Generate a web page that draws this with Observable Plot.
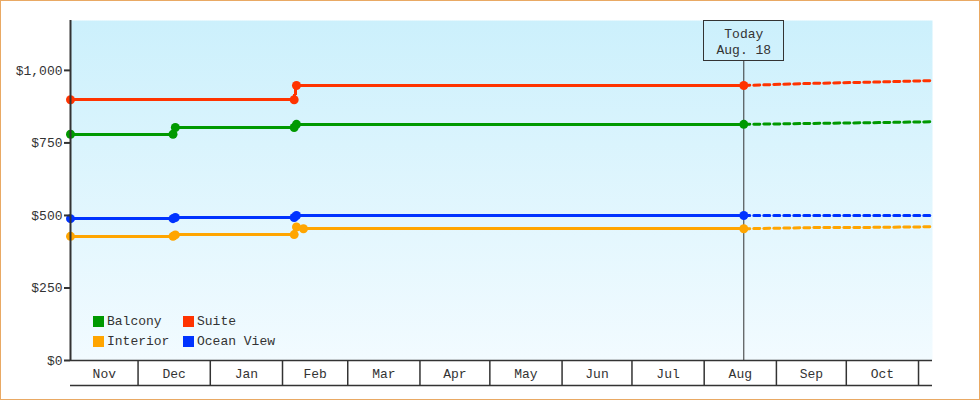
<!DOCTYPE html>
<html>
<head>
<meta charset="utf-8">
<script src="https://cdn.jsdelivr.net/npm/d3@7"></script>
<script src="https://cdn.jsdelivr.net/npm/@observablehq/plot@0.6"></script>
<style>
  html, body { margin: 0; padding: 0; background: #fff; }
  #wrap { position: relative; width: 978px; height: 398px; border: 1px solid #e9a964; overflow: hidden; }
  #wrap svg { display: block; }
  .legend { position: absolute; left: 92px; top: 310px; display: grid; grid-template-columns: 90px auto; grid-auto-rows: 20px; align-items: center; font: 13px "Liberation Mono", monospace; color: #333; }
  .legend span.item { display: flex; align-items: center; white-space: nowrap; }
  .legend i { display: inline-block; width: 11px; height: 11px; margin-right: 3px; }
</style>
</head>
<body>
<div id="wrap"></div>
<script>
// ---- data ----
const seriesNames = ["Balcony", "Suite", "Interior", "Ocean View"];
const seriesColors = ["#009900", "#ff3300", "#ffa500", "#0033ff"];

const historyDates = ["2022-11-02", "2022-12-16", "2022-12-17", "2023-02-06", "2023-02-07", "2023-02-10", "2023-08-18"];
const balconyHistory  = [780, 780, 803, 803, 814, null, 814];
const suiteHistory    = [899, null, null, 899, 948, null, 948];
const interiorHistory = [428, 428, 433, 434, 460, 454, 454];
const oceanHistory    = [489, 489, 493, 493, 500, null, 500];

const forecastDates = ["2023-08-18", "2023-09-15", "2023-10-15", "2023-11-07"];
const balconyForecast  = [814, 817, 820, 823];
const suiteForecast    = [948, 955, 960, 965];
const interiorForecast = [454, 458, 459, 461];
const oceanForecast    = [500, 500, 500, 500];

const monthLabels = ["Nov", "Dec", "Jan", "Feb", "Mar", "Apr", "May", "Jun", "Jul", "Aug", "Sep", "Oct", "Nov"];
const monthStarts = ["2022-11-01", "2022-12-01", "2023-01-01", "2023-02-01", "2023-03-01", "2023-04-01", "2023-05-01", "2023-06-01", "2023-07-01", "2023-08-01", "2023-09-01", "2023-10-01", "2023-11-01"];
const xDomain = ["2022-11-02", "2023-11-07"];
const yTicks = [0, 250, 500, 750, 1000];
const yMax = 1172;
const todayDate = "2023-08-18";
const todayLabel = ["Today", "Aug. 18"];

// ---- build tables ----
const parse = s => new Date(s + "T00:00:00Z");
const histSets = [balconyHistory, suiteHistory, interiorHistory, oceanHistory];
const fcSets = [balconyForecast, suiteForecast, interiorForecast, oceanForecast];
const hist = [], fc = [];
seriesNames.forEach((s, i) => {
  historyDates.forEach((d, j) => { const v = histSets[i][j]; if (v != null) hist.push({series: s, date: parse(d), price: v}); });
  forecastDates.forEach((d, j) => { fc.push({series: s, date: parse(d), price: fcSets[i][j]}); });
});
const xd = xDomain.map(parse);
const starts = monthStarts.map(parse);
const cells = [];
for (let i = 0; i < starts.length; i++) {
  const a = new Date(Math.max(starts[i], xd[0]));
  const b = i + 1 < starts.length ? starts[i + 1] : xd[1];
  const bb = new Date(Math.min(b, xd[1]));
  if (bb - a > 10 * 864e5) cells.push({mid: new Date((+a + +bb) / 2), label: monthLabels[i]});
}
const ticksIn = starts.filter(d => d > xd[0] && d < xd[1]);
const today = parse(todayDate);

const ink = "#333";
const svg = Plot.plot({
  width: 978,
  height: 398,
  marginTop: 19,
  marginBottom: 39,
  marginLeft: 69,
  marginRight: 47,
  style: {fontFamily: "'Liberation Mono', monospace", fontSize: "13px", color: ink, background: "transparent", overflow: "visible"},
  x: {type: "utc", domain: xd, axis: null},
  y: {domain: [0, yMax], axis: null},
  color: {domain: seriesNames, range: seriesColors},
  marks: [
    Plot.frame({fill: "url(#bgGrad)", stroke: null}),
    Plot.ruleX([today], {insetTop: 40, stroke: ink, strokeWidth: 1}),
    Plot.line(fc, {x: "date", y: "price", stroke: "series", strokeWidth: 3, strokeDasharray: "6,4", strokeDashoffset: 0}),
    Plot.line(hist, {x: "date", y: "price", stroke: "series", strokeWidth: 3, shapeRendering: "crispEdges"}),
    Plot.dot(hist, {x: "date", y: "price", fill: "series", r: 4.5}),
    Plot.rect([today], {x1: d => d, x2: d => d, insetLeft: -40, insetRight: -40, insetBottom: 300, stroke: ink, strokeWidth: 1, fill: "none", shapeRendering: "crispEdges"}),
    Plot.text([today], {x: d => d, frameAnchor: "top", dy: 20, lineAnchor: "middle", text: () => todayLabel.join("\n"), lineHeight: 1.23, fill: ink, fontSize: 13}),
    Plot.axisY({ticks: yTicks, label: null, tickSize: 6, tickPadding: 2, strokeWidth: 2, tickFormat: d => "$" + d3.format(",")(d), fontSize: 13}),
    Plot.ruleX([xd[0]], {stroke: ink, strokeWidth: 2}),
    Plot.ruleY([0], {stroke: ink, strokeWidth: 1.5}),
    Plot.ruleY([0], {stroke: ink, strokeWidth: 1.5, dy: 25}),
    Plot.axisX({ticks: ticksIn, label: null, tickSize: 25, tickFormat: () => "", strokeWidth: 1.5}),
    Plot.text(cells, {x: "mid", text: "label", frameAnchor: "bottom", lineAnchor: "middle", dy: 13, fill: ink, fontSize: 13})
  ]
});

const defs = d3.select(svg).insert("defs", ":first-child");
const g = defs.append("linearGradient").attr("id", "bgGrad").attr("x1", 0).attr("y1", 0).attr("x2", 0).attr("y2", 1);
g.append("stop").attr("offset", "0%").attr("stop-color", "#ccf0fc");
g.append("stop").attr("offset", "100%").attr("stop-color", "#f2fbff");

const wrap = document.getElementById("wrap");
wrap.appendChild(svg);

const legend = document.createElement("div");
legend.className = "legend";
const legendOrder = ["Balcony", "Suite", "Interior", "Ocean View"];
legendOrder.forEach(name => {
  const it = document.createElement("span");
  it.className = "item";
  const sw = document.createElement("i");
  sw.style.background = seriesColors[seriesNames.indexOf(name)];
  it.appendChild(sw);
  it.appendChild(document.createTextNode(name));
  legend.appendChild(it);
});
wrap.appendChild(legend);
</script>
</body>
</html>
